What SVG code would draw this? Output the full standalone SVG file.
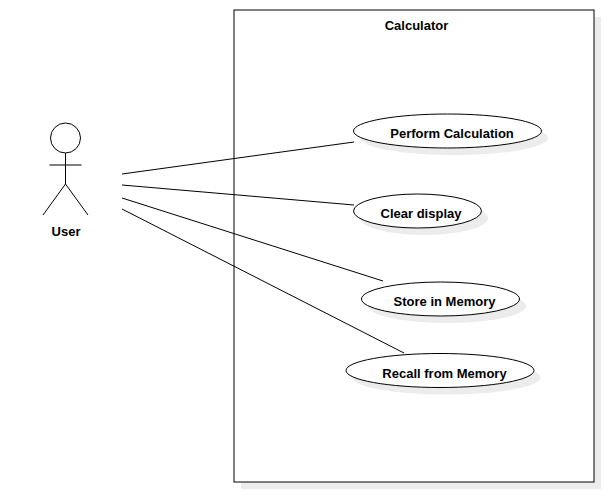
<svg xmlns="http://www.w3.org/2000/svg" width="604" height="492" viewBox="0 0 604 492">
<style>
text{font-family:"Liberation Sans",Arial,sans-serif;font-size:13px;font-weight:bold;fill:#000;text-anchor:middle}
.shadow{fill:#ececec;stroke:none}
.uc{fill:#fff;stroke:#000;stroke-width:1}
.line{fill:none;stroke:#000;stroke-width:1}
</style>
<rect width="604" height="492" fill="#fff"/>
<g id="system-calculator">
<rect class="shadow" x="241" y="17" width="360" height="472"/>
<rect x="234" y="10" width="360" height="472" fill="#fff" stroke="#000" stroke-width="1"/>
<text x="416.500" y="30">Calculator</text>
</g>
<g id="connectors">
<line class="line" x1="122" y1="174" x2="354" y2="142"/>
<line class="line" x1="122" y1="185" x2="354" y2="205"/>
<line class="line" x1="122" y1="198" x2="383" y2="281"/>
<line class="line" x1="122" y1="209" x2="404" y2="353"/>
</g>
<g id="actor-user">
<circle class="line" cx="65.500" cy="138" r="15"/>
<path class="line" d="M65.500 153V184M49.500 165H81.500M43 215L65.500 184L88 215"/>
<text x="66" y="236">User</text>
</g>
<g id="uc-perform-calculation">
<ellipse class="shadow" cx="454" cy="138" rx="94" ry="17"/>
<ellipse class="uc" cx="447.500" cy="131" rx="94" ry="17"/>
<text x="452" y="138">Perform Calculation</text>
</g>
<g id="uc-clear-display">
<ellipse class="shadow" cx="424" cy="218" rx="64" ry="17"/>
<ellipse class="uc" cx="417.500" cy="211" rx="64" ry="17"/>
<text x="421" y="217.500">Clear display</text>
</g>
<g id="uc-store-in-memory">
<ellipse class="shadow" cx="447" cy="306" rx="79" ry="17"/>
<ellipse class="uc" cx="440.500" cy="299" rx="79" ry="17"/>
<text x="444.500" y="306">Store in Memory</text>
</g>
<g id="uc-recall-from-memory">
<ellipse class="shadow" cx="446.500" cy="377.500" rx="94" ry="17"/>
<ellipse class="uc" cx="440" cy="370.500" rx="94" ry="17"/>
<text x="444.500" y="378">Recall from Memory</text>
</g>
</svg>
